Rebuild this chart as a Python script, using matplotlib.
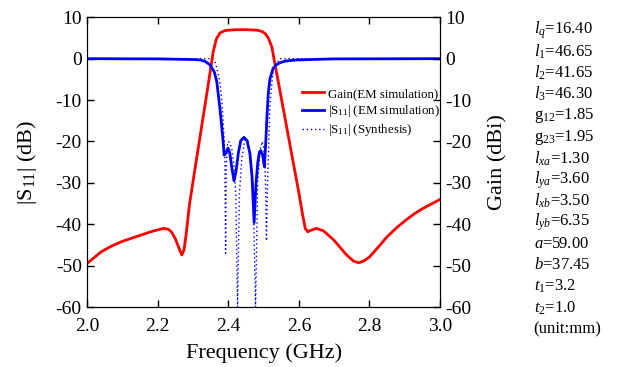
import matplotlib
matplotlib.use("Agg")
import matplotlib.pyplot as plt

plt.rcParams['font.family'] = ['Liberation Serif', 'DejaVu Serif']
plt.rcParams['mathtext.fontset'] = 'custom'
plt.rcParams['mathtext.rm'] = 'Liberation Serif'
plt.rcParams['mathtext.it'] = 'Liberation Serif:italic'

# Gain (EM simulation)
gain_f = [2.0, 2.02, 2.04, 2.07, 2.10, 2.145, 2.18, 2.215, 2.23, 2.24, 2.25, 2.26,
          2.268, 2.274, 2.28, 2.29, 2.30, 2.32, 2.34, 2.357, 2.366, 2.376, 2.39,
          2.42, 2.45, 2.48, 2.495, 2.505, 2.513, 2.523, 2.55, 2.58, 2.60, 2.61,
          2.618, 2.625, 2.635, 2.65, 2.67, 2.70, 2.735, 2.755, 2.77, 2.785, 2.80,
          2.825, 2.85, 2.88, 2.906, 2.93, 2.953, 2.98, 3.0]
gain_db = [-49.4, -48.0, -46.6, -45.2, -44.1, -42.8, -41.8, -41.0, -41.2, -42.0,
           -43.6, -45.8, -47.4, -46.2, -42.5, -35.0, -29.5, -18.6, -7.8, 1.7, 4.8,
           6.2, 6.8, 7.0, 7.0, 6.9, 6.6, 6.0, 5.0, 2.9, -9.5, -23.3, -32.5, -37.5,
           -41.0, -41.8, -41.4, -41.0, -41.6, -43.9, -47.4, -48.9, -49.3, -48.8,
           -47.9, -45.5, -43.0, -40.6, -38.8, -37.3, -36.1, -34.9, -34.0]

# |S11| (EM simulation)
s11_f = [2.0, 2.2, 2.3, 2.32, 2.335, 2.348, 2.36, 2.367, 2.376, 2.384, 2.388,
         2.393, 2.399, 2.404, 2.41, 2.416, 2.422, 2.428, 2.435, 2.444, 2.453,
         2.461, 2.467, 2.473, 2.478, 2.483, 2.488, 2.492, 2.497, 2.502, 2.506,
         2.51, 2.513, 2.518, 2.527, 2.537, 2.546, 2.56, 2.594, 2.7, 3.0]
s11_db = [0.0, -0.05, -0.2, -0.3, -0.7, -1.5, -3.2, -5.5, -12.0, -19.0, -23.3,
          -22.8, -21.6, -22.8, -26.5, -29.5, -27.0, -22.9, -19.8, -19.0, -19.8,
          -22.9, -28.5, -39.6, -30.5, -25.3, -22.5, -22.2, -23.2, -26.1, -20.0,
          -13.0, -8.4, -4.8, -2.3, -1.4, -1.0, -0.6, -0.3, -0.05, 0.0]

# |S11| (Synthesis)
syn_f = [2.0, 2.355, 2.362, 2.368, 2.372, 2.378, 2.383, 2.387, 2.390, 2.392,
         2.394, 2.397, 2.401, 2.405, 2.410, 2.416, 2.421, 2.426, 2.431, 2.438,
         2.447, 2.455, 2.463, 2.470, 2.477, 2.483, 2.490, 2.496, 2.501, 2.505,
         2.508, 2.511, 2.513, 2.518, 2.527, 2.546, 3.0]
syn_db = [0.0, 0.0, -0.8, -2.5, -4.0, -7.0, -12.0, -18.0, -24.0, -47.0,
          -26.0, -21.0, -20.0, -20.5, -22.0, -26.0, -33.0, -60.0, -33.0, -24.0,
          -19.5, -20.0, -24.0, -31.0, -60.0, -30.0, -22.0, -20.0, -22.0, -29.0,
          -44.0, -30.0, -24.5, -10.7, -2.7, 0.0, 0.0]

x_ticks = [2.0, 2.2, 2.4, 2.6, 2.8, 3.0]
y_ticks = [-60, -50, -40, -30, -20, -10, 0, 10]

param_names = [r'$l_q$', r'$l$$_1$', r'$l$$_2$', r'$l$$_3$', r'g$_{12}$', r'g$_{23}$',
               r'$l_{xa}$', r'$l_{ya}$', r'$l_{xb}$', r'$l_{yb}$', r'$a$', r'$b$',
               r'$t$$_1$', r'$t$$_2$']
param_values = ['16.40', '46.65', '41.65', '46.30', '1.85', '1.95', '1.30', '3.60',
                '3.50', '6.35', '59.00', '37.45', '3.2', '1.0']

fig = plt.figure(figsize=(6.22, 3.67), dpi=100)
ax = fig.add_axes([0.1404, 0.1632, 0.5670, 0.7897])

ax.plot(gain_f, gain_db, color='#ff0000', lw=2.0, label='Gain(EM simulation)', zorder=3)
ax.plot(s11_f, s11_db, color='#0000ff', lw=2.0, label=r'|S$_{11}$| (EM simulation)', zorder=4)
ax.plot(syn_f, syn_db, color='#0000ff', lw=1.0, linestyle=(0, (1, 2)),
        label=r'|S$_{11}$| (Synthesis)', zorder=2)

ax.set_xlim(2.0, 3.0)
ax.set_ylim(-60, 10)
ax.set_xticks(x_ticks)
ax.set_xticklabels(['%.1f' % v for v in x_ticks])
ax.set_yticks(y_ticks)
ax.set_yticklabels(['%d' % v for v in y_ticks])
ax.tick_params(direction='in', length=5, width=1, labelsize=14, pad=4,
               top=True, right=False)
ax.tick_params(axis='x', pad=8)
ax.set_xlabel('Frequency (GHz)', fontsize=16, labelpad=6)
ax.set_ylabel(r'|S$_{11}$| (dB)', fontsize=16, labelpad=12)

ax2 = ax.twinx()
ax2.set_ylim(-60, 10)
ax2.set_yticks(y_ticks)
ax2.set_yticklabels(['%d' % v for v in y_ticks])
ax2.tick_params(direction='in', length=5, width=1, labelsize=14, pad=4)
ax2.set_ylabel('Gain (dBi)', fontsize=16, labelpad=12)

ax.legend(loc='upper left', bbox_to_anchor=(0.589, 0.779), frameon=False, fontsize=9.3,
          handlelength=1.75, handletextpad=0.3, labelspacing=0.25, borderpad=0)

for i, (n, v) in enumerate(zip(param_names, param_values)):
    fig.text(0.858, 1 - (30 + i * 21.4) / 367, n + '=' + v,
             fontsize=12, va='center', ha='left')
fig.text(0.858, 1 - (30 + 14 * 21.4) / 367, '(unit:mm)', fontsize=12,
         va='center', ha='left')

fig.savefig('out.png', dpi=100)
